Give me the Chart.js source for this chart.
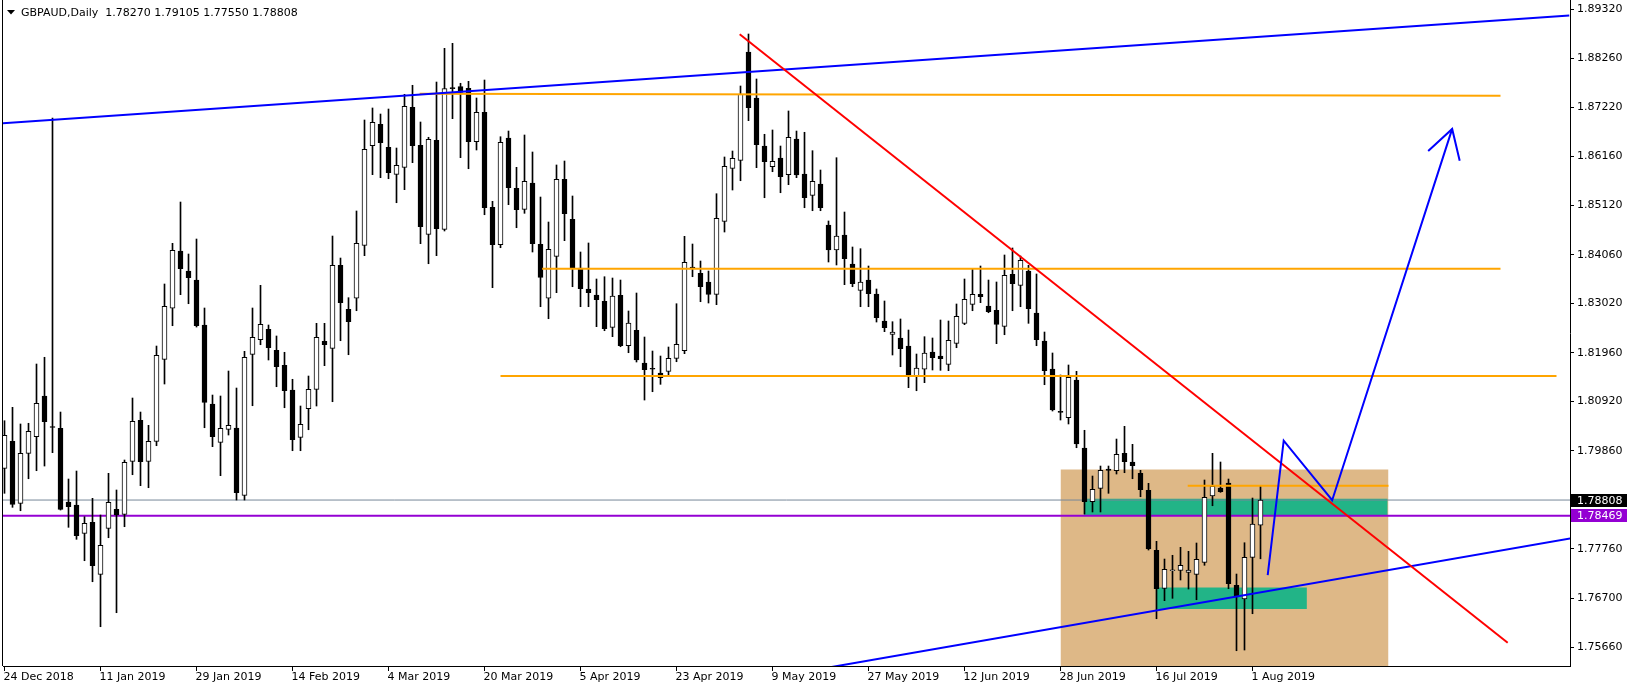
<!DOCTYPE html>
<html><head><meta charset="utf-8">
<script src="https://cdn.jsdelivr.net/npm/chart.js@4.4.1/dist/chart.umd.min.js"></script>
<style>html,body{margin:0;padding:0;background:#fff;}#wrap{width:1633px;height:690px;position:relative;}</style>
</head><body><div id="wrap"><canvas id="c" width="1633" height="690"></canvas></div>
<script>
// ---- data (GBPAUD daily, bar index 0 = 24 Dec 2018) ----
const opens = [1.79487,1.80065,1.78738,1.79808,1.80164,1.81035,1.80365,1.80343,1.78766,1.78701,
 1.78095,1.78331,1.77218,1.78202,1.78609,1.78502,1.79637,1.80515,1.79637,1.80065,
 1.81821,1.82913,1.84139,1.83711,1.83518,1.82555,1.80864,1.80044,1.80322,1.80350,
 1.78909,1.81928,1.82240,1.82463,1.82013,1.81692,1.81163,1.80151,1.80763,1.81178,
 1.82206,1.82056,1.83833,1.82891,1.83127,1.84261,1.86394,1.86852,1.86359,1.85781,
 1.85931,1.87216,1.86402,1.84497,1.86509,1.84604,1.87614,1.87657,1.87623,1.86479,
 1.87109,1.85075,1.84274,1.86559,1.85482,1.85032,1.85595,1.84283,1.83127,1.84026,
 1.85674,1.84818,1.83775,1.83326,1.83197,1.83062,1.82506,1.83191,1.82112,1.82442,
 1.81742,1.81628,1.81527,1.81564,1.81842,1.82005,1.83797,1.83662,1.83476,1.83212,
 1.84775,1.85910,1.86081,1.88400,1.87415,1.86387,1.85944,1.86130,1.85773,1.86537,
 1.85788,1.85332,1.85574,1.84696,1.84161,1.84482,1.83861,1.83298,1.83518,1.83219,
 1.82641,1.82356,1.82277,1.82105,1.81457,1.81607,1.81977,1.81891,1.81714,1.82163,
 1.82591,1.82998,1.83212,1.82962,1.82870,1.82527,1.83641,1.83405,1.83711,1.82812,
 1.82213,1.81613,1.80708,1.80570,1.81378,1.79922,1.78772,1.79059,1.79472,1.79436,
 1.79808,1.79622,1.79380,1.79016,1.77731,1.76918,1.77295,1.77303,1.77260,1.77218,
 1.77475,1.78894,1.79065,1.79172,1.76982,1.76689,1.77582,1.78270];
const highs = [1.80506,1.80793,1.80436,1.80451,1.81720,1.81864,1.86987,1.80692,1.79258,1.79429,
 1.78451,1.78845,1.78487,1.79380,1.79023,1.79665,1.80992,1.80692,1.80408,1.82105,
 1.83433,1.84304,1.85188,1.84075,1.84396,1.82919,1.81056,1.81035,1.81570,1.81206,
 1.81992,1.82919,1.83405,1.82555,1.82320,1.81971,1.81393,1.80821,1.81463,1.82591,
 1.82591,1.84460,1.83989,1.83140,1.84996,1.86944,1.87201,1.87072,1.87179,1.86344,
 1.87494,1.87687,1.86901,1.86574,1.87757,1.88479,1.88586,1.87730,1.87772,1.87415,
 1.87800,1.85203,1.86586,1.86708,1.85931,1.86623,1.86259,1.85295,1.84760,1.85981,
 1.86066,1.85317,1.84118,1.84311,1.83540,1.83589,1.83561,1.83518,1.82855,1.83240,
 1.82298,1.81998,1.81891,1.82084,1.83011,1.84454,1.84289,1.83925,1.83711,1.85366,
 1.86152,1.86280,1.87672,1.88785,1.87822,1.86638,1.86730,1.86387,1.87137,1.86708,
 1.86681,1.86287,1.85873,1.84782,1.86137,1.84974,1.84225,1.84189,1.83818,1.83326,
 1.83069,1.82626,1.82684,1.82448,1.81934,1.82305,1.82277,1.82662,1.82641,1.83005,
 1.83540,1.83754,1.83818,1.83518,1.83476,1.84054,1.84204,1.84032,1.83833,1.83647,
 1.82405,1.81956,1.81485,1.81699,1.81564,1.80301,1.79322,1.79536,1.79536,1.80114,
 1.80386,1.80001,1.79444,1.79166,1.77924,1.77545,1.77625,1.77796,1.77710,1.77888,
 1.79237,1.79808,1.79622,1.79258,1.77224,1.77894,1.78851,1.79105];
const lows = [1.78952,1.78652,1.78579,1.79264,1.79436,1.79536,1.79821,1.78594,1.78224,1.77967,
 1.77509,1.77059,1.76096,1.78001,1.76396,1.78237,1.79350,1.79115,1.79072,1.79971,
 1.81292,1.82540,1.83204,1.83011,1.82512,1.80356,1.79950,1.79329,1.80200,1.78808,
 1.78808,1.80827,1.82133,1.81806,1.81234,1.80784,1.79864,1.79864,1.80313,1.80821,
 1.81684,1.80913,1.82219,1.81919,1.82861,1.84039,1.85773,1.85709,1.85687,1.85173,
 1.85452,1.86030,1.84296,1.83867,1.84039,1.84568,1.86972,1.86137,1.85901,1.86302,
 1.84916,1.83354,1.84210,1.85131,1.84638,1.84946,1.84118,1.82947,1.82690,1.83247,
 1.84360,1.83375,1.82947,1.82947,1.82519,1.82433,1.82305,1.82090,1.81962,1.81763,
 1.80949,1.81127,1.81285,1.81491,1.81769,1.81941,1.83589,1.83054,1.83026,1.82990,
 1.84546,1.85445,1.85644,1.86929,1.85923,1.85280,1.85837,1.85387,1.85559,1.85709,
 1.85066,1.85002,1.85002,1.83904,1.83840,1.83418,1.83375,1.82947,1.82947,1.82619,
 1.82412,1.81913,1.81662,1.81213,1.81148,1.81320,1.81592,1.81585,1.81577,1.82069,
 1.82562,1.82861,1.83033,1.82818,1.82155,1.82347,1.82861,1.82947,1.82591,1.82112,
 1.81277,1.80714,1.80521,1.80436,1.79928,1.78509,1.78552,1.78552,1.78952,1.79365,
 1.79393,1.79264,1.78879,1.77738,1.76267,1.76653,1.76704,1.77096,1.76903,1.76674,
 1.77411,1.78686,1.78973,1.76910,1.75582,1.75597,1.76374,1.77550];
const closes = [1.80194,1.78716,1.79808,1.80279,1.80879,1.80485,1.80360,1.78609,1.78665,1.78044,
 1.78310,1.77402,1.77839,1.78759,1.78487,1.79616,1.80493,1.79628,1.80065,1.81906,
 1.82955,1.84154,1.83760,1.83568,1.82540,1.80900,1.80164,1.80343,1.80408,1.78965,
 1.81864,1.82292,1.82570,1.82069,1.81662,1.81148,1.80099,1.80429,1.81178,1.82292,
 1.82133,1.83833,1.83033,1.82626,1.84304,1.86317,1.86895,1.86458,1.85816,1.85974,
 1.87237,1.86394,1.84660,1.86531,1.84617,1.87614,1.87614,1.87537,1.86479,1.87109,
 1.85066,1.84274,1.86466,1.85495,1.85023,1.85632,1.84296,1.83576,1.84176,1.85674,
 1.84938,1.83760,1.83332,1.83247,1.83097,1.82476,1.83176,1.82112,1.82598,1.81806,
 1.81598,1.81607,1.81427,1.81842,1.82142,1.83897,1.83760,1.83375,1.83212,1.84839,
 1.85953,1.86124,1.87494,1.87207,1.86415,1.86051,1.86060,1.85730,1.86574,1.85766,
 1.85280,1.85632,1.85066,1.84161,1.84460,1.83974,1.83439,1.83476,1.83225,1.82711,
 1.82497,1.82405,1.82048,1.81470,1.81634,1.81956,1.81855,1.81834,1.82228,1.82741,
 1.83105,1.83212,1.83161,1.82840,1.82570,1.83619,1.83439,1.83940,1.82904,1.82240,
 1.81577,1.80735,1.80686,1.81435,1.80007,1.78772,1.79038,1.79444,1.79444,1.79787,
 1.79628,1.79543,1.79029,1.77759,1.76910,1.77325,1.77303,1.77411,1.77310,1.77539,
 1.78866,1.79102,1.78986,1.77017,1.76732,1.77582,1.78295,1.78808];

const dateTickIndex = [0,12,24,36,48,60,72,84,96,108,120,132,144,156];
const dateTickLabels = ["24 Dec 2018","11 Jan 2019","29 Jan 2019","14 Feb 2019","4 Mar 2019","20 Mar 2019",
  "5 Apr 2019","23 Apr 2019","9 May 2019","27 May 2019","12 Jun 2019","28 Jun 2019","16 Jul 2019","1 Aug 2019"];
const priceTicks = [1.89320,1.88260,1.87220,1.86160,1.85120,1.84060,1.83020,1.81960,1.80920,1.79860,1.78810,1.77760,1.76700,1.75660];

const titleText = "GBPAUD,Daily  1.78270 1.79105 1.77550 1.78808";
const bidPrice = 1.78808;
const levelPrice = 1.78469;

// drawn objects: [barIndex, price] points
const upperBlueLine = [[-0.5, 1.86871], [195.6, 1.89179]];
const lowerBlueLine = [[100, 1.75133], [200, 1.78111]];
const redLine = [[91.9, 1.88779], [187.9, 1.75751]];
const orangeTop = [[51.9, 1.87507], [187, 1.87462]];
const orangeMid = [[67.2, 1.83760], [187, 1.83760]];
const orangeLow = [[62, 1.81463], [194, 1.81463]];
const orangeShort = [[147.9, 1.79115], [173, 1.79115]];
const forecastPath = [[157.9, 1.77203], [159.9, 1.80080], [165.96, 1.78804], [180.96, 1.86753]];
const forecastHead = [[177.96, 1.86278], [180.96, 1.86753], [181.9, 1.86070]];
// boxes: [x0, x1, top, bottom]
const zoneBox = [132, 173, 1.79461, 1.70];
const greenBoxUpper = [134.9, 172.9, 1.78838, 1.78479];
const greenBoxLower = [143.9, 162.8, 1.76937, 1.76477];

const X_MIN = -0.1875, X_MAX = 195.6875;
const Y_MIN = 1.75255, Y_MAX = 1.89513;
const FONT = {family: 'DejaVu Sans', size: 11};

function pts(a) { return a.map(p => ({x: p[0], y: p[1]})); }
function lineDS(a, color, width, order) {
  return {type: 'line', data: pts(a), borderColor: color, borderWidth: width, pointRadius: 0,
    fill: false, tension: 0, order: order, clip: 0};
}
function boxDS(b, color, order) {
  return {type: 'line', data: [{x: b[0], y: b[2]}, {x: b[1], y: b[2]}], borderColor: 'rgba(0,0,0,0)',
    borderWidth: 0, pointRadius: 0, backgroundColor: color, fill: {value: b[3]}, order: order, clip: 0};
}

const datasets = [
  boxDS(zoneBox, '#DEB887', 30),
  boxDS(greenBoxUpper, '#22B487', 29),
  boxDS(greenBoxLower, '#22B487', 29),
  lineDS([[X_MIN - 1, bidPrice], [X_MAX + 1, bidPrice]], '#778899', 1, 28),
  lineDS([[X_MIN - 1, levelPrice], [X_MAX + 1, levelPrice]], '#9400D3', 2, 27),
  {type: 'bar', data: lows.map((l, i) => ({x: i, y: [l, highs[i]]})), backgroundColor: '#000',
    borderWidth: 0, grouped: false, barPercentage: 1, categoryPercentage: 1, maxBarThickness: 1, order: 20},
  {type: 'bar', data: opens.map((o, i) => ({x: i, y: [o, closes[i]]})),
    backgroundColor: (c) => { const i = c.dataIndex; if (i === undefined) return '#000'; return closes[i] > opens[i] ? '#fff' : '#000'; },
    borderColor: '#000', borderWidth: 1, borderSkipped: false, grouped: false, minBarLength: 1,
    barPercentage: 1, categoryPercentage: 1, maxBarThickness: 5, order: 19},
  lineDS(orangeTop, '#FFA500', 2, 10),
  lineDS(orangeMid, '#FFA500', 2, 10),
  lineDS(orangeLow, '#FFA500', 2, 10),
  lineDS(orangeShort, '#FFA500', 2, 10),
  lineDS(upperBlueLine, '#0000FF', 2, 8),
  lineDS(lowerBlueLine, '#0000FF', 2, 8),
  lineDS(redLine, '#FF0000', 2, 7),
  lineDS(forecastPath, '#0000FF', 2, 5),
  lineDS(forecastHead, '#0000FF', 2, 5)
];

const decorPlugin = {
  id: 'decor',
  afterDraw(chart) {
    const ctx = chart.ctx, ys = chart.scales.y, a = chart.chartArea;
    ctx.save();
    ctx.fillStyle = '#000';
    ctx.fillRect(2, 0, 1, a.bottom);
    ctx.beginPath(); ctx.moveTo(7, 10); ctx.lineTo(15, 10); ctx.lineTo(11, 14.5); ctx.closePath(); ctx.fill();
    ctx.font = '11px "DejaVu Sans"';
    ctx.textBaseline = 'middle'; ctx.textAlign = 'left';
    ctx.fillText(titleText, 21, 13.5);
    [[bidPrice, '#000000'], [levelPrice, '#9400D3']].forEach(([v, col]) => {
      const y = ys.getPixelForValue(v);
      ctx.fillStyle = col;
      ctx.fillRect(a.right + 1, Math.round(y - 6.5), 56, 13);
      ctx.fillStyle = '#fff';
      ctx.fillText(v.toFixed(5), a.right + 7, Math.round(y - 6.5) + 7);
    });
    ctx.restore();
  }
};

new Chart(document.getElementById('c'), {
  type: 'bar',
  data: {datasets},
  plugins: [decorPlugin],
  options: {
    responsive: false, animation: false, devicePixelRatio: 1, events: [],
    layout: {padding: {left: 3, right: 0, top: 0, bottom: 0}},
    plugins: {legend: {display: false}, tooltip: {enabled: false}, title: {display: false}},
    scales: {
      x: {
        type: 'linear', min: X_MIN, max: X_MAX, offset: false,
        afterBuildTicks: s => { s.ticks = dateTickIndex.map(v => ({value: v})); },
        afterFit: s => { s.height = 24; s.paddingLeft = 0; s.paddingRight = 0; },
        grid: {drawOnChartArea: false, drawTicks: true, tickLength: 5, color: '#000', offset: false},
        border: {display: true, color: '#000', width: 1},
        ticks: {align: 'start', labelOffset: -1, maxRotation: 0, minRotation: 0, autoSkip: false, padding: 0, color: '#000', font: FONT,
          callback: v => { const k = dateTickIndex.indexOf(v); return k >= 0 ? dateTickLabels[k] : ''; }}
      },
      y: {
        type: 'linear', position: 'right', min: Y_MIN, max: Y_MAX,
        afterBuildTicks: s => { s.ticks = priceTicks.map(v => ({value: v})); },
        afterFit: s => { s.width = 63; s.paddingTop = 0; s.paddingBottom = 0; },
        grid: {drawOnChartArea: false, drawTicks: true, tickLength: 4, color: '#000'},
        border: {display: true, color: '#000', width: 1},
        ticks: {padding: 3, color: '#000', font: FONT, autoSkip: false, callback: v => Number(v).toFixed(5)}
      }
    }
  }
});
</script></body></html>
